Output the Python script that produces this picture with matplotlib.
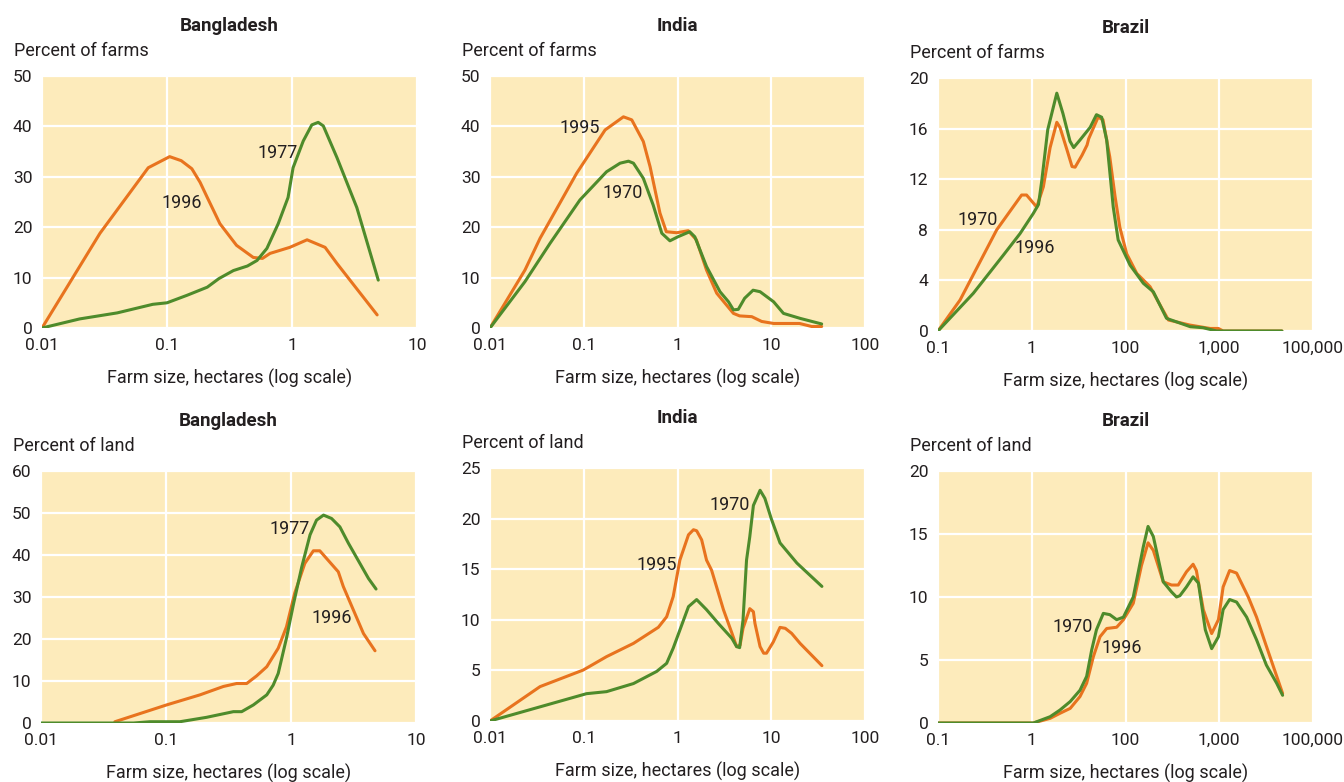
import matplotlib
matplotlib.use('Agg')
import matplotlib.pyplot as plt

plt.rcParams['font.family'] = ['Roboto', 'DejaVu Sans']

# colours
bg_color = '#FDEBBB'
orange = '#E8731E'
green = '#4E8B2B'
text_color = '#231F20'

# Bangladesh, percent of farms
bd_farms_x_1996 = [0.01, 0.0291, 0.0708, 0.105, 0.13, 0.158, 0.184, 0.21, 0.265, 0.36, 0.49, 0.58, 0.667, 0.96, 1.32, 1.84, 2.29, 4.8]
bd_farms_y_1996 = [0, 18.8, 31.8, 34, 33.2, 31.6, 28.9, 25.9, 20.7, 16.4, 14.0, 13.8, 14.8, 16, 17.5, 16, 12.8, 2.6]
bd_farms_x_1977 = [0.01, 0.02, 0.04, 0.077, 0.1, 0.145, 0.21, 0.26, 0.34, 0.44, 0.525, 0.63, 0.776, 0.93, 1.02, 1.23, 1.44, 1.62, 1.78, 2.29, 3.3, 4.9]
bd_farms_y_1977 = [0, 1.8, 3, 4.7, 5, 6.5, 8.1, 9.8, 11.4, 12.3, 13.4, 15.8, 20.7, 25.9, 31.8, 37.1, 40.3, 40.8, 40.1, 33.8, 23.9, 9.5]

# India, percent of farms
in_farms_x_1995 = [0.01, 0.0236, 0.0342, 0.084, 0.169, 0.265, 0.325, 0.432, 0.51, 0.65, 0.76, 0.98, 1.30, 1.59, 2.04, 2.62, 3.95, 4.6, 6.2, 7.9, 10.6, 20, 27, 34.5]
in_farms_y_1995 = [0, 11.5, 17.8, 30.7, 39.3, 41.9, 41.3, 37, 32, 22.8, 19.1, 18.9, 19.3, 17.5, 11.5, 6.9, 2.9, 2.4, 2.25, 1.3, 0.9, 0.9, 0.3, 0.3]
in_farms_x_1970 = [0.01, 0.0236, 0.0437, 0.091, 0.175, 0.244, 0.30, 0.339, 0.432, 0.55, 0.68, 0.83, 1.01, 1.35, 1.53, 2.04, 2.84, 3.5, 3.95, 4.45, 5.2, 6.4, 7.6, 10.6, 13.5, 20.4, 34.5]
in_farms_y_1970 = [0, 9.2, 16.8, 25.4, 31, 32.7, 33.1, 32.7, 29.7, 24.4, 18.8, 17.3, 18.1, 19.1, 18.1, 12.2, 7.2, 5.2, 3.6, 3.7, 5.9, 7.5, 7.2, 5.2, 2.9, 1.9, 0.8]

# Brazil, percent of farms (axis positions 0.1 ... 1000 carry the printed labels)
br_farms_x_1970 = [0.1, 0.172, 0.423, 0.78, 0.88, 1.13, 1.33, 1.57, 1.85, 2.0, 2.38, 2.69, 2.9, 3.44, 3.89, 4.05, 5.1, 5.75, 6.8, 7.75, 8.7, 10.3, 13.2, 18.3, 22.4, 28.7, 48.6, 80, 98, 110, 466]
br_farms_y_1970 = [0, 2.45, 8.0, 10.75, 10.75, 9.8, 11.4, 14.5, 16.5, 16.1, 14.3, 13.0, 12.95, 13.9, 14.7, 15.2, 16.9, 16.7, 13.75, 10.6, 8.2, 6.1, 4.55, 3.5, 2.3, 0.87, 0.47, 0.2, 0.2, 0, 0]
br_farms_x_1996 = [0.1, 0.238, 0.498, 0.75, 1.04, 1.18, 1.28, 1.48, 1.85, 2.15, 2.56, 2.8, 3.27, 4.2, 4.9, 5.57, 6.3, 7.4, 8.35, 11.2, 15.5, 19.8, 27.4, 49, 67, 94, 466]
br_farms_y_1996 = [0, 2.98, 6.0, 7.7, 9.3, 10.0, 11.9, 15.9, 18.8, 17.2, 15.0, 14.5, 15.1, 16.1, 17.1, 16.9, 15.1, 9.8, 7.2, 5.2, 3.77, 3.1, 1.0, 0.34, 0.26, 0, 0]

# Bangladesh, percent of land
bd_land_x_1996 = [0.039, 0.101, 0.187, 0.288, 0.367, 0.442, 0.53, 0.64, 0.79, 0.92, 1.07, 1.29, 1.51, 1.70, 2.39, 2.62, 3.8, 4.7]
bd_land_y_1996 = [0.3, 4.3, 6.7, 8.7, 9.4, 9.4, 11.2, 13.4, 17.8, 22.9, 30.9, 38, 41, 41, 36, 32.5, 21.3, 17.2]
bd_land_x_1977 = [0.01, 0.055, 0.0745, 0.129, 0.211, 0.346, 0.403, 0.5, 0.64, 0.72, 0.79, 0.92, 1.05, 1.22, 1.42, 1.60, 1.82, 2.11, 2.46, 2.88, 4.17, 4.79]
bd_land_y_1977 = [0, 0, 0.3, 0.3, 1.35, 2.7, 2.7, 4.3, 6.7, 9.0, 11.8, 20.2, 28.5, 37.2, 44.8, 48.3, 49.5, 48.7, 46.7, 42.8, 34.4, 31.9]

# India, percent of land
in_land_x_1995 = [0.01, 0.0342, 0.099, 0.175, 0.339, 0.625, 0.766, 0.9, 1.06, 1.31, 1.48, 1.6, 1.81, 2.04, 2.31, 3.09, 3.8, 4.27, 4.65, 5.0, 5.9, 6.45, 6.7, 7.6, 8.3, 8.9, 10.5, 12.4, 14.1, 16.5, 20.3, 34.7]
in_land_y_1995 = [0, 3.4, 5.04, 6.36, 7.67, 9.26, 10.3, 12.3, 15.9, 18.4, 18.9, 18.8, 17.9, 15.9, 14.9, 11.0, 8.7, 7.35, 7.5, 9.16, 11.1, 10.8, 9.65, 7.35, 6.7, 6.7, 7.8, 9.25, 9.16, 8.66, 7.67, 5.47]
in_land_x_1970 = [0.01, 0.0342, 0.107, 0.175, 0.339, 0.6, 0.766, 0.9, 1.31, 1.6, 2.04, 2.72, 3.8, 4.27, 4.6, 5.0, 5.45, 5.9, 6.45, 7.6, 8.55, 10.0, 12.4, 18.8, 34.7]
in_land_y_1970 = [0, 1.4, 2.7, 2.9, 3.7, 4.9, 5.7, 7.2, 11.3, 12.0, 11.0, 9.65, 8.17, 7.35, 7.25, 10.0, 15.9, 18.2, 21.3, 22.8, 22.0, 20.0, 17.6, 15.6, 13.3]

# Brazil, percent of land
br_land_x_1970 = [0.1, 1.04, 1.57, 2.0, 2.57, 3.27, 3.85, 4.36, 4.9, 5.8, 6.8, 8.05, 9.5, 12.1, 15.5, 17.4, 19.8, 25.3, 31, 35, 38, 44.7, 52.6, 60, 71, 83, 98, 110, 129, 153, 196, 250, 318, 410, 474]
br_land_y_1970 = [0, 0, 0.5, 1.03, 1.7, 2.6, 3.7, 5.8, 7.4, 8.7, 8.6, 8.2, 8.4, 10.0, 14.0, 15.6, 14.8, 11.2, 10.4, 10.0, 10.1, 10.8, 11.6, 11.1, 7.4, 5.9, 6.85, 9.0, 9.8, 9.6, 8.4, 6.6, 4.6, 3.15, 2.2]
br_land_x_1996 = [0.1, 1.04, 1.57, 2.0, 2.57, 3.27, 3.85, 4.54, 5.35, 6.3, 8.05, 9.5, 12.1, 14.8, 17.4, 19.8, 25.3, 31, 36.5, 44.7, 52.6, 57, 67.6, 83, 98, 110, 129, 153, 204, 250, 318, 474]
br_land_y_1996 = [0, 0, 0.37, 0.77, 1.16, 2.1, 3.15, 5.26, 6.85, 7.5, 7.6, 8.2, 9.5, 12.5, 14.3, 13.7, 11.2, 10.95, 10.95, 12.0, 12.6, 12.1, 9.0, 7.1, 8.2, 10.8, 12.1, 11.9, 10.0, 8.4, 6.1, 2.35]

# axis ticks
ticks_bd = [0.01, 0.1, 1, 10]
labels_bd = ['0.01', '0.1', '1', '10']
ticks_in = [0.01, 0.1, 1, 10, 100]
labels_in = ['0.01', '0.1', '1', '10', '100']
ticks_br = [0.1, 1, 10, 100, 1000]
labels_br = ['0.1', '1', '100', '1,000', '100,000']

# panels: (rect, title, ylabel, xticks, xlabels, yticks, orange series, green series, labels)
panels = [
    ([42, 76, 417, 328], 'Bangladesh', 'Percent of farms', ticks_bd, labels_bd, [0, 10, 20, 30, 40, 50],
     (bd_farms_x_1996, bd_farms_y_1996), (bd_farms_x_1977, bd_farms_y_1977),
     [('1996', 0.132, 24.9), ('1977', 0.773, 34.8)]),
    ([490, 76, 865, 328], 'India', 'Percent of farms', ticks_in, labels_in, [0, 10, 20, 30, 40, 50],
     (in_farms_x_1995, in_farms_y_1995), (in_farms_x_1970, in_farms_y_1970),
     [('1995', 0.091, 39.7), ('1970', 0.262, 26.8)]),
    ([938, 78, 1313, 331], 'Brazil', 'Percent of farms', ticks_br, labels_br, [0, 4, 8, 12, 16, 20],
     (br_farms_x_1970, br_farms_y_1970), (br_farms_x_1996, br_farms_y_1996),
     [('1970', 0.267, 8.8), ('1996', 1.08, 6.6)]),
    ([41, 471, 416, 723], 'Bangladesh', 'Percent of land', ticks_bd, labels_bd, [0, 10, 20, 30, 40, 50, 60],
     (bd_land_x_1996, bd_land_y_1996), (bd_land_x_1977, bd_land_y_1977),
     [('1977', 0.98, 46.2), ('1996', 2.13, 25)]),
    ([490, 468, 865, 721], 'India', 'Percent of land', ticks_in, labels_in, [0, 5, 10, 15, 20, 25],
     (in_land_x_1995, in_land_y_1995), (in_land_x_1970, in_land_y_1970),
     [('1995', 0.6, 15.4), ('1970', 3.63, 21.3)]),
    ([938, 471, 1313, 723], 'Brazil', 'Percent of land', ticks_br, labels_br, [0, 5, 10, 15, 20],
     (br_land_x_1996, br_land_y_1996), (br_land_x_1970, br_land_y_1970),
     [('1970', 2.75, 7.6), ('1996', 9.2, 5.95)]),
]

W, H = 1344, 782
fs = 13          # labels
fs_tick = 12.5   # tick labels
fig = plt.figure(figsize=(W / 100, H / 100), dpi=100)

for rect, title, ylabel, xt, xl, yt, orange_s, green_s, notes in panels:
    x0, y0, x1, y1 = rect
    ax = fig.add_axes([x0 / W, 1 - y1 / H, (x1 - x0) / W, (y1 - y0) / H])
    ax.set_facecolor(bg_color)
    ax.set_xscale('log')
    ax.set_xlim(xt[0], xt[-1])
    ax.set_ylim(yt[0], yt[-1])
    ax.set_xticks(xt)
    ax.set_xticklabels(xl)
    ax.minorticks_off()
    ax.set_yticks(yt)
    ax.grid(True, color='white', linewidth=1.6)
    ax.set_axisbelow(True)
    for s in ax.spines.values():
        s.set_visible(False)
    ax.tick_params(length=0, labelsize=fs_tick, colors=text_color, pad=7)

    ax.plot(orange_s[0], orange_s[1], color=orange, linewidth=2.2, solid_capstyle='round', solid_joinstyle='round')
    ax.plot(green_s[0], green_s[1], color=green, linewidth=2.2, solid_capstyle='round', solid_joinstyle='round')
    for txt, tx, ty in notes:
        ax.text(tx, ty, txt, fontsize=fs, color=text_color, ha='center', va='center')

    # titles and labels placed by pixel offsets from the plot box
    cx = (x0 + x1) / 2
    fig.text(cx / W, 1 - (y0 - 50) / H, title, fontsize=13.5, fontweight='bold',
             color=text_color, ha='center', va='center')
    fig.text((x0 - 28) / W, 1 - (y0 - 25) / H, ylabel, fontsize=fs,
             color=text_color, ha='left', va='center')
    fig.text(cx / W, 1 - (y1 + 50) / H, 'Farm size, hectares (log scale)', fontsize=fs,
             color=text_color, ha='center', va='center')

fig.savefig('out.png', dpi=100, facecolor='white')
